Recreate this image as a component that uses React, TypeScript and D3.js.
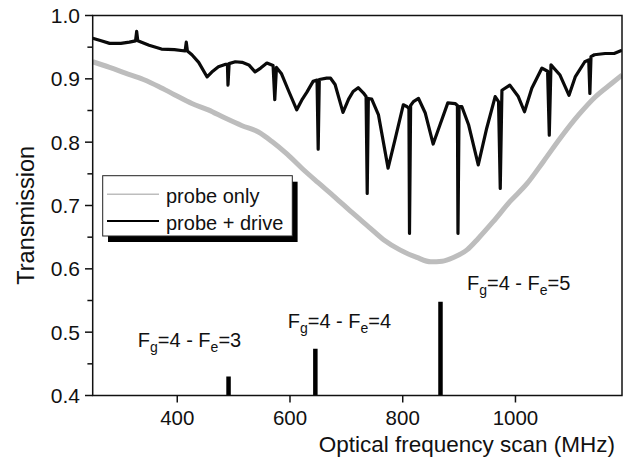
import React from "react";
import * as d3 from "d3";

// Probe only (broad Doppler absorption) — [MHz, transmission]
const probeOnlyFreq = [250, 280, 308, 340, 367, 395, 426, 455, 485, 515, 544, 568, 595, 622, 650, 680, 710, 740, 766, 795, 825, 850, 870, 890, 914, 934, 960, 990, 1020, 1050, 1080, 1112, 1141, 1171, 1189];
const probeOnlyT = [0.927, 0.918, 0.909, 0.899, 0.888, 0.875, 0.861, 0.851, 0.838, 0.826, 0.816, 0.801, 0.781, 0.758, 0.736, 0.713, 0.689, 0.666, 0.646, 0.630, 0.618, 0.611, 0.612, 0.618, 0.630, 0.648, 0.674, 0.706, 0.734, 0.770, 0.807, 0.843, 0.871, 0.893, 0.906];

// Probe + drive — [MHz, transmission]
const probeDriveFreq = [250, 265, 280, 300, 315, 326, 328, 330, 350, 372, 395, 414, 416, 418, 426, 438, 453, 463, 473, 486, 489, 490, 492, 503, 515, 527, 538, 548, 559, 570, 573, 576, 585, 598, 612, 622, 630, 641, 648, 650, 652, 665, 672, 680, 694, 704, 712, 721, 730, 735, 737, 739, 745, 757, 774, 786, 801, 808, 811, 812, 814, 819, 828, 840, 854, 866, 880, 893, 897, 898, 900, 905, 917, 934, 949, 964, 970, 973, 976, 990, 1005, 1016, 1029, 1047, 1057, 1060, 1063, 1079, 1095, 1106, 1123, 1130, 1132, 1134, 1140, 1159, 1175, 1189];
const probeDriveT = [0.964, 0.960, 0.956, 0.956, 0.958, 0.960, 0.975, 0.960, 0.953, 0.947, 0.946, 0.944, 0.958, 0.944, 0.938, 0.926, 0.903, 0.912, 0.919, 0.923, 0.923, 0.890, 0.924, 0.927, 0.926, 0.922, 0.911, 0.917, 0.925, 0.921, 0.867, 0.918, 0.908, 0.880, 0.851, 0.868, 0.879, 0.896, 0.898, 0.789, 0.899, 0.901, 0.901, 0.891, 0.847, 0.868, 0.880, 0.886, 0.878, 0.872, 0.719, 0.869, 0.868, 0.843, 0.759, 0.803, 0.859, 0.856, 0.853, 0.656, 0.858, 0.864, 0.869, 0.846, 0.797, 0.827, 0.862, 0.861, 0.858, 0.656, 0.856, 0.856, 0.827, 0.764, 0.822, 0.872, 0.864, 0.727, 0.882, 0.890, 0.872, 0.848, 0.885, 0.917, 0.912, 0.811, 0.922, 0.906, 0.874, 0.903, 0.927, 0.930, 0.877, 0.935, 0.938, 0.940, 0.940, 0.945];

// Hyperfine transitions (stick spectrum)
const transFreq = [491, 645, 867];
const transHeight = [0.430, 0.474, 0.548];
const transFe = ["3", "4", "5"];

const xTicks = [400, 600, 800, 1000];
const yTicks = [0.4, 0.5, 0.6, 0.7, 0.8, 0.9, 1.0];
const yMinorTicks = [0.45, 0.55, 0.65, 0.75, 0.85, 0.95];

const legendLabels = ["probe only", "probe + drive"];

const W = 624;
const H = 461;
const FONT = "'Liberation Sans', Arial, Helvetica, sans-serif";

export default function App() {
  const x = d3.scaleLinear().domain([250, 1189]).range([92.7, 622]);
  const y = d3.scaleLinear().domain([0.4, 1.0]).range([395.5, 15.5]);

  const grayPts = probeOnlyFreq.map((f, i) => [f, probeOnlyT[i]] as [number, number]);
  const blackPts = probeDriveFreq.map((f, i) => [f, probeDriveT[i]] as [number, number]);
  const grayPath =
    d3
      .line<[number, number]>()
      .x((d) => x(d[0]))
      .y((d) => y(d[1]))
      .curve(d3.curveMonotoneX)(grayPts) || "";
  const blackPath =
    d3
      .line<[number, number]>()
      .x((d) => x(d[0]))
      .y((d) => y(d[1]))
      .curve(d3.curveLinear)(blackPts) || "";

  const labelAnchors = [
    { f: 330, t: 0.476 },
    { f: 596, t: 0.506 },
    { f: 914, t: 0.566 },
  ];

  const x0 = x.range()[0];
  const x1 = x.range()[1];
  const yTop = y(1.0);
  const yBot = y(0.4);

  const lg = { x: 102.7, y: 175.7, w: 189.6, h: 60.3 };

  return (
    <svg
      width={W}
      height={H}
      style={{ position: "absolute", left: 0, top: 0, background: "#fff" }}
      fontFamily={FONT}
    >
      <rect x={0} y={0} width={W} height={H} fill="#fff" />
      <defs>
        <clipPath id="plotclip">
          <rect x={x0} y={yTop} width={x1 - x0} height={yBot - yTop} />
        </clipPath>
      </defs>

      {/* data */}
      <g clipPath="url(#plotclip)">
        <path d={grayPath} fill="none" stroke="#bdbdbd" strokeWidth={5} strokeLinejoin="round" />
        <path d={blackPath} fill="none" stroke="#0a0a0a" strokeWidth={3.2} strokeLinejoin="round" />
        {transFreq.map((f, i) => (
          <line
            key={f}
            x1={x(f)}
            x2={x(f)}
            y1={y(0.4)}
            y2={y(transHeight[i])}
            stroke="#000"
            strokeWidth={4.5}
          />
        ))}
      </g>

      {/* frame */}
      <rect x={x0} y={yTop} width={x1 - x0} height={yBot - yTop} fill="none" stroke="#111" strokeWidth={1.5} />

      {/* y ticks */}
      {yTicks.map((t) => (
        <g key={t}>
          <line x1={x0 - 7.7} x2={x0} y1={y(t)} y2={y(t)} stroke="#111" strokeWidth={1.5} />
          <text x={80} y={y(t)} dy="0.36em" textAnchor="end" fontSize={21} fill="#111">
            {t.toFixed(1)}
          </text>
        </g>
      ))}
      {yMinorTicks.map((t) => (
        <line key={t} x1={x0 - 5.3} x2={x0} y1={y(t)} y2={y(t)} stroke="#111" strokeWidth={1.5} />
      ))}

      {/* x ticks */}
      {xTicks.map((t) => (
        <g key={t}>
          <line x1={x(t)} x2={x(t)} y1={yBot} y2={yBot + 7} stroke="#111" strokeWidth={1.5} />
          <text x={x(t)} y={425} textAnchor="middle" fontSize={20.5} fill="#111">
            {t}
          </text>
        </g>
      ))}

      {/* axis titles */}
      <text x={615} y={452} textAnchor="end" fontSize={22.5} fill="#111">
        Optical frequency scan (MHz)
      </text>
      <text
        transform={`translate(33.5, 215.3) rotate(-90)`}
        textAnchor="middle"
        fontSize={23.5}
        fill="#111"
      >
        Transmission
      </text>

      {/* transition labels */}
      {transFe.map((fe, i) => (
        <text key={fe} x={x(labelAnchors[i].f)} y={y(labelAnchors[i].t)} fontSize={20} fill="#111">
          F
          <tspan dy={5} fontSize={14}>g</tspan>
          <tspan dy={-5}>=4 - F</tspan>
          <tspan dy={5} fontSize={14}>e</tspan>
          <tspan dy={-5}>={fe}</tspan>
        </text>
      ))}

      {/* legend */}
      <rect x={lg.x + 5.3} y={lg.y + 6} width={lg.w} height={lg.h} fill="#000" />
      <rect x={lg.x} y={lg.y} width={lg.w} height={lg.h} fill="#fff" stroke="#222" strokeWidth={1} />
      <line x1={107} x2={159} y1={194.3} y2={194.3} stroke="#bdbdbd" strokeWidth={1.5} />
      <line x1={107} x2={159} y1={221} y2={221} stroke="#000" strokeWidth={1.8} />
      <text x={166} y={203} fontSize={20} fill="#111">
        {legendLabels[0]}
      </text>
      <text x={166} y={230} fontSize={20} fill="#111">
        {legendLabels[1]}
      </text>
    </svg>
  );
}
